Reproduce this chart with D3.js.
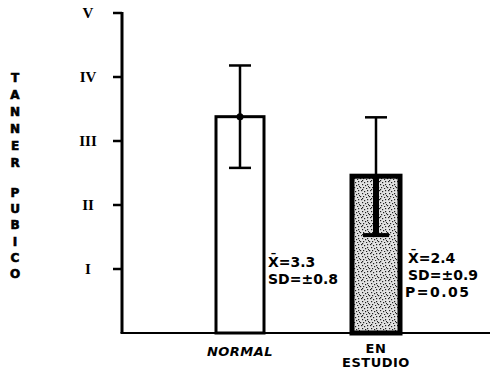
<!DOCTYPE html>
<html>
<head>
<meta charset="utf-8">
<script src="https://cdn.jsdelivr.net/npm/d3@7"></script>
<style>
  body { margin: 0; background: #fff; }
  svg { display: block; }
</style>
</head>
<body>
<div id="chart"></div>
<script>
// data
var groups = ["NORMAL", "EN ESTUDIO"];
var means = [3.38, 2.45];
var sds = [0.8, 0.92];
var stats = [["X\u0304=3.3", "SD=\u00b10.8"], ["X\u0304=2.4", "SD=\u00b10.9", "P=0.05"]];
var tickValues = [1, 2, 3, 4, 5];
var tickLabels = ["I", "II", "III", "IV", "V"];
var axisTitle = ["TANNER", "PUBICO"];

var width = 492, height = 373;

var svg = d3.select("#chart").append("svg")
    .attr("width", width)
    .attr("height", height);

// stipple pattern for the study group
var defs = svg.append("defs");
var pat = defs.append("pattern")
    .attr("id", "stipple")
    .attr("patternUnits", "userSpaceOnUse")
    .attr("width", 9)
    .attr("height", 9);
pat.append("rect").attr("width", 9).attr("height", 9).attr("fill", "#e2e2e2");
var dots = [[1, 1], [4, 2], [2, 4], [5, 5], [7, 1], [0, 7], [3, 7], [7, 4], [6, 8], [8, 6], [2, 0]];
pat.selectAll("rect.d")
    .data(dots)
    .enter()
    .append("rect")
    .attr("class", "d")
    .attr("x", function (d) { return d[0]; })
    .attr("y", function (d) { return d[1]; })
    .attr("width", 1.2)
    .attr("height", 1.2)
    .attr("fill", "#222");

var y = d3.scaleLinear().domain([0, 5]).range([333, 13]);
var x = d3.scalePoint().domain(groups).range([240, 376]);
var axisX = 122;
var barW = 48;

// bars
svg.selectAll("rect.bar")
    .data(groups)
    .enter()
    .append("rect")
    .attr("class", "bar")
    .attr("x", function (d) { return x(d) - barW / 2; })
    .attr("y", function (d, i) { return y(means[i]); })
    .attr("width", barW)
    .attr("height", function (d, i) { return y(0) - y(means[i]); })
    .attr("fill", function (d, i) { return i == 0 ? "#fff" : "url(#stipple)"; })
    .attr("stroke", "#000")
    .attr("stroke-width", function (d, i) { return i == 0 ? 3 : 5; });

// error bars: upper whisker thin, lower whisker (inside bar)
groups.forEach(function (g, i) {
    var cx = x(g);
    svg.append("line")
        .attr("x1", cx).attr("x2", cx)
        .attr("y1", y(means[i] + sds[i])).attr("y2", y(means[i]))
        .attr("stroke", "#000").attr("stroke-width", 2.5);
    svg.append("line")
        .attr("x1", cx).attr("x2", cx)
        .attr("y1", y(means[i])).attr("y2", y(means[i] - sds[i]))
        .attr("stroke", "#000").attr("stroke-width", i == 0 ? 2.5 : 6);
    [means[i] + sds[i], means[i] - sds[i]].forEach(function (v, k) {
        svg.append("line")
            .attr("x1", cx - (i == 1 && k == 1 ? 13 : 11))
            .attr("x2", cx + (i == 1 && k == 1 ? 13 : 11))
            .attr("y1", y(v)).attr("y2", y(v))
            .attr("stroke", "#000").attr("stroke-width", i == 1 && k == 1 ? 4 : 2.5);
    });
    if (i == 0) {
        svg.append("circle")
            .attr("cx", cx).attr("cy", y(means[i]))
            .attr("r", 3.5).attr("fill", "#000");
    }
});

// axes
svg.append("line")
    .attr("x1", axisX).attr("x2", axisX)
    .attr("y1", y(5) - 1).attr("y2", y(0))
    .attr("stroke", "#000").attr("stroke-width", 3);
svg.append("line")
    .attr("x1", axisX - 1.5).attr("x2", 490)
    .attr("y1", y(0)).attr("y2", y(0))
    .attr("stroke", "#000").attr("stroke-width", 2);

svg.selectAll("line.tick")
    .data(tickValues)
    .enter()
    .append("line")
    .attr("class", "tick")
    .attr("x1", axisX - 9).attr("x2", axisX)
    .attr("y1", function (d) { return y(d); })
    .attr("y2", function (d) { return y(d); })
    .attr("stroke", "#000").attr("stroke-width", 2.5);

svg.selectAll("text.tl")
    .data(tickValues)
    .enter()
    .append("text")
    .attr("class", "tl")
    .attr("x", 88)
    .attr("y", function (d) { return y(d) + 5; })
    .attr("text-anchor", "middle")
    .style("font-family", "Liberation Serif")
    .style("font-weight", "bold")
    .style("font-size", "15px")
    .text(function (d, i) { return tickLabels[i]; });

// vertical stacked title
var letters = [];
axisTitle.forEach(function (w, wi) {
    w.split("").forEach(function (c, ci) {
        letters.push({ c: c, y: (wi == 0 ? 82 : 197) + ci * (wi == 0 ? 17 : 16.2) });
    });
});
svg.selectAll("text.title")
    .data(letters)
    .enter()
    .append("text")
    .attr("class", "title")
    .attr("x", 15)
    .attr("y", function (d) { return d.y; })
    .attr("text-anchor", "middle")
    .style("font-family", "DejaVu Sans")
    .style("font-weight", "bold")
    .style("font-size", "12px")
    .style("stroke", "#000")
    .style("stroke-width", 0.6)
    .text(function (d) { return d.c; });

// category labels
var catLines = [["NORMAL"], ["EN", "ESTUDIO"]];
groups.forEach(function (g, i) {
    catLines[i].forEach(function (t, k) {
        svg.append("text")
            .attr("x", x(g))
            .attr("y", (i == 0 ? 356 : 353) + k * 14)
            .attr("text-anchor", "middle")
            .style("font-family", "DejaVu Sans")
            .style("font-weight", "bold")
            .style("font-style", i == 0 ? "italic" : "normal")
            .style("font-size", "13px")
            .style("letter-spacing", "0.5px")
            .text(t);
    });
});

// stat annotations
var statX = [268, 408];
var statY = [267, 263];
stats.forEach(function (lines, i) {
    lines.forEach(function (t, k) {
        svg.append("text")
            .attr("x", statX[i] + (k == 2 ? -3 : 0))
            .attr("y", statY[i] + k * 17)
            .style("font-family", "DejaVu Sans")
            .style("font-weight", "bold")
            .style("font-size", "14px")
            .style("letter-spacing", k == 2 ? "1.5px" : "0px")
            .text(t);
    });
});
</script>
</body>
</html>
